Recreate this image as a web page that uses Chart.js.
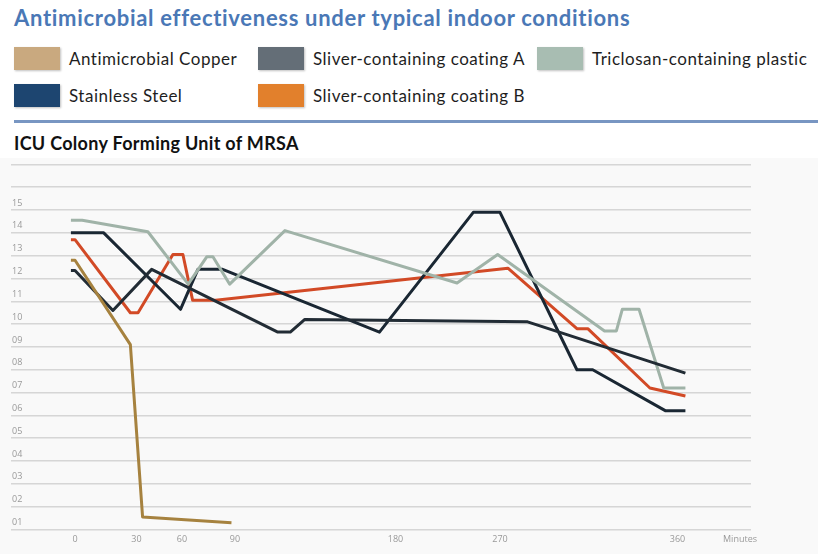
<!DOCTYPE html>
<html lang="en">

<head>
  <meta charset="UTF-8">
  <title>Antimicrobial effectiveness</title>
  <script src="https://cdn.jsdelivr.net/npm/chart.js"></script>
  <style>
    body { margin: 0; background: #fff; font-family: Lato, "Open Sans", sans-serif; }
    .page { position: relative; width: 818px; height: 554px; overflow: hidden; }
    .title { position: absolute; left: 14px; top: 4px; font-size: 22px; letter-spacing: 0.7px; font-weight: bold; color: #4a78b6; white-space: nowrap; }
    .legend { position: absolute; left: 14px; top: 47px; display: grid; grid-template-columns: 244px 279px auto; row-gap: 14px; }
    .legend-item { display: flex; align-items: center; height: 23px; font-size: 17px; letter-spacing: 0.5px; color: #1e1e1e; white-space: nowrap; }
    .legend-box { width: 46px; height: 23px; margin-right: 9px; box-shadow: 1px 1px 2px rgba(0,0,0,0.25); }
    .rule { position: absolute; left: 14px; right: 0; top: 120px; height: 3px; background: #7896c2; }
    .subtitle { position: absolute; left: 14px; top: 132px; font-size: 18px; letter-spacing: 0.3px; font-weight: bold; color: #111; white-space: nowrap; }
    .panel { position: absolute; left: 0; top: 158px; width: 818px; height: 396px; background: #f9f9f9; }
  </style>
</head>

<body>
  <div class="page">
    <div class="title">Antimicrobial effectiveness under typical indoor conditions</div>
    <div class="legend" id="legend"></div>
    <div class="rule"></div>
    <div class="subtitle">ICU Colony Forming Unit of MRSA</div>
    <div class="panel"><canvas id="mrsaChart" width="818" height="396"></canvas></div>
  </div>

  <script>
    // Series: time in minutes, colony forming units
    const copperMin = [-2, 0, 27, 34, 88];
    const copperCfu = [12.8, 12.8, 9.1, 1.55, 1.3];

    const coatingAMin = [-2, 0, 18.5, 40, 114, 121, 129, 284, 364];
    const coatingACfu = [12.35, 12.35, 10.6, 12.4, 9.65, 9.65, 10.2, 10.1, 7.85];

    const triclosanMin = [-2, 3.5, 37.5, 63.5, 74, 77.5, 87, 118, 233, 268, 323, 329, 332, 340.5, 353, 364];
    const triclosanCfu = [14.55, 14.55, 14.05, 11.75, 12.95, 12.95, 11.75, 14.1, 11.8, 13.05, 9.7, 9.7, 10.65, 10.65, 7.2, 7.2];

    const steelMin = [-2, 14, 59, 69, 83, 171, 247, 270, 309, 317, 354, 364];
    const steelCfu = [14.0, 14.0, 10.65, 12.4, 12.4, 9.65, 14.9, 14.9, 8.0, 8.0, 6.2, 6.2];

    const coatingBMin = [-2, 0, 27, 31, 54, 60.5, 66, 79, 274, 309, 314.5, 346, 364];
    const coatingBCfu = [13.7, 13.7, 10.5, 10.5, 13.05, 13.05, 11.05, 11.05, 12.45, 9.8, 9.8, 7.2, 6.85];

    const seriesNames = ['Antimicrobial Copper', 'Sliver-containing coating A', 'Triclosan-containing plastic',
      'Stainless Steel', 'Sliver-containing coating B'];
    const seriesMin = [copperMin, coatingAMin, triclosanMin, steelMin, coatingBMin];
    const seriesCfu = [copperCfu, coatingACfu, triclosanCfu, steelCfu, coatingBCfu];

    const legendColors = ['#c9a97f', '#646e77', '#a8bdb2', '#1d4570', '#e2802c'];
    const lineColors = ['#a6823f', '#222c35', '#a0b3a8', '#1a2733', '#d24a26'];

    // x tick labels (minutes) and where they sit along the axis (share of plot width)
    const tickMinutes = [0, 30, 60, 90, 180, 270, 360];
    const tickSpots = [0.0865, 0.1696, 0.2311, 0.3027, 0.5196, 0.6608, 0.9007];

    // the minutes axis of the original is not evenly spaced, so map it piece by piece
    class PiecewiseScale extends Chart.LinearScale {
      static id = 'piecewise';
      static defaults = {};
      buildTicks() { return tickMinutes.map(v => ({ value: v })); }
      toShare(v) {
        let i = 0;
        while (i < tickMinutes.length - 2 && v > tickMinutes[i + 1]) i++;
        const t = (v - tickMinutes[i]) / (tickMinutes[i + 1] - tickMinutes[i]);
        return tickSpots[i] + t * (tickSpots[i + 1] - tickSpots[i]);
      }
      getPixelForValue(v) { return v == null ? NaN : this.getPixelForDecimal(this.toShare(v)); }
      getValueForPixel(p) {
        const s = this.getDecimalForPixel(p);
        let i = 0;
        while (i < tickSpots.length - 2 && s > tickSpots[i + 1]) i++;
        const t = (s - tickSpots[i]) / (tickSpots[i + 1] - tickSpots[i]);
        return tickMinutes[i] + t * (tickMinutes[i + 1] - tickMinutes[i]);
      }
    }
    Chart.register(PiecewiseScale);

    // legend
    const legend = document.getElementById('legend');
    seriesNames.forEach((name, i) => {
      const item = document.createElement('div');
      item.className = 'legend-item';
      item.innerHTML = `<span class="legend-box" style="background:${legendColors[i]}"></span>${name}`;
      legend.appendChild(item);
    });

    const minutesLabel = {
      id: 'minutesLabel',
      afterDraw(chart) {
        const ctx = chart.ctx;
        const xs = chart.scales.x;
        ctx.save();
        ctx.font = '9px "Open Sans"';
        ctx.fillStyle = '#999';
        ctx.textAlign = 'center';
        ctx.textBaseline = 'middle';
        ctx.fillText('Minutes', 740, xs.top + 5 + 5.4);
        ctx.restore();
      }
    };

    new Chart(document.getElementById('mrsaChart'), {
      type: 'line',
      data: {
        datasets: seriesNames.map((name, i) => ({
          label: name,
          data: seriesMin[i].map((m, j) => ({ x: m, y: seriesCfu[i][j] })),
          borderColor: lineColors[i],
          borderWidth: 3,
          pointRadius: 0,
          tension: 0,
          fill: false,
          borderJoinStyle: 'round'
        }))
      },
      options: {
        responsive: false,
        animation: false,
        layout: { padding: { left: 9, right: 67, top: 2.5, bottom: 3.7 } },
        plugins: { legend: { display: false }, tooltip: { enabled: false } },
        scales: {
          x: {
            type: 'piecewise',
            min: -32,
            max: 397,
            grid: { display: false, drawTicks: false },
            border: { display: false },
            ticks: { color: '#999', font: { family: 'Open Sans', size: 9 }, padding: 5, maxRotation: 0, autoSkip: false }
          },
          y: {
            min: 1,
            max: 17,
            grid: { color: '#d6d6d6', lineWidth: 1.5, drawTicks: false },
            border: { display: false },
            ticks: {
              stepSize: 1,
              mirror: true,
              padding: 1,
              labelOffset: -7,
              color: '#999',
              font: { family: 'Open Sans', size: 9 },
              callback: v => v <= 15 ? String(v).padStart(2, '0') : ''
            }
          }
        }
      },
      plugins: [minutesLabel]
    });
  </script>
</body>

</html>
